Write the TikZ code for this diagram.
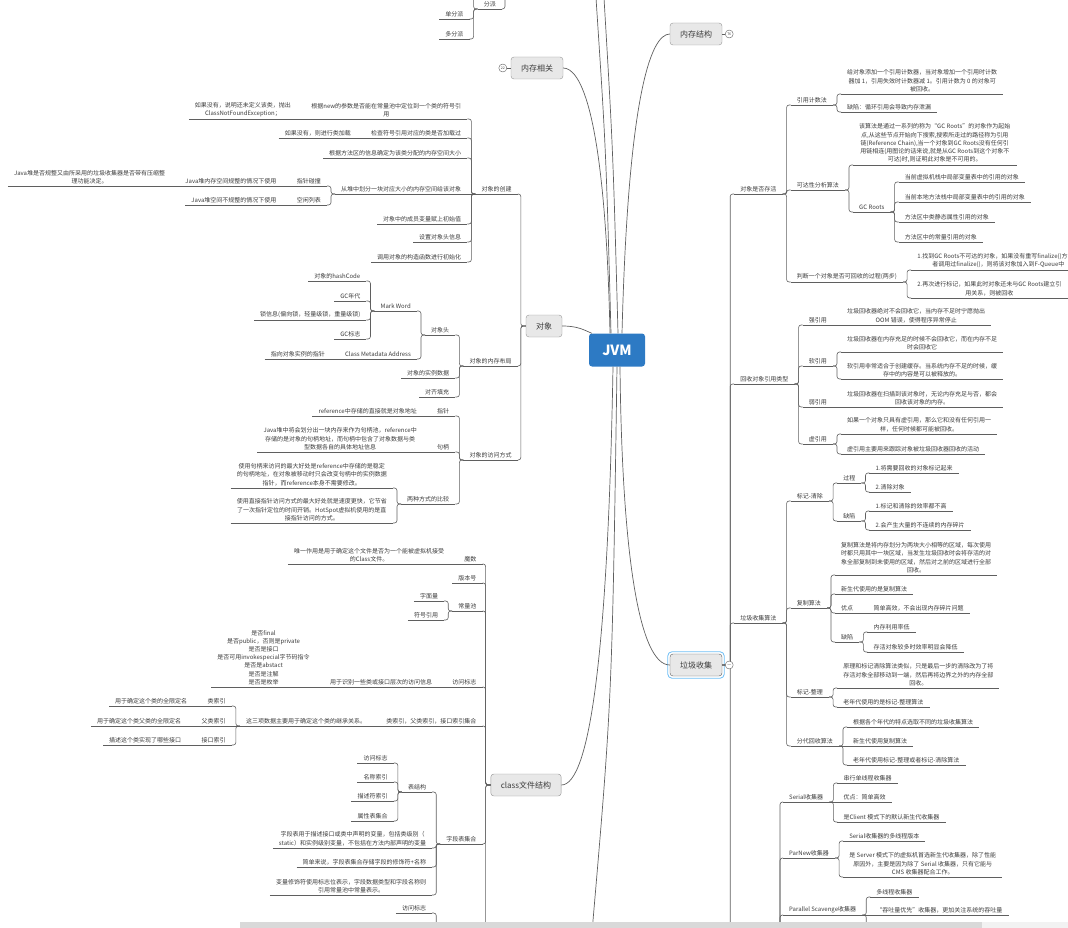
\documentclass[tikz,border=0pt]{standalone}
\usepackage{fontspec}
\setmainfont{Noto Sans CJK SC}
\usetikzlibrary{positioning}
\definecolor{txt}{RGB}{60,60,60}
\definecolor{ln}{RGB}{95,95,95}
\definecolor{bx}{RGB}{232,232,232}
\definecolor{bd}{RGB}{150,150,150}
\definecolor{cJ}{RGB}{45,122,196}
\definecolor{sel}{RGB}{110,190,245}

\begin{document}
\begin{tikzpicture}[x=1pt, y=-1pt, font=\fontsize{6}{8.2}\selectfont, text=txt,
    wire/.style={draw=ln, line width=0.6pt},
    link/.style={wire, rounded corners=2.5pt},
    rl/.style={link, to path={-- ++(#1,0) |- (\tikztotarget)}}, rl/.default=4,
    ll/.style={link, to path={-- ++(#1,0) |- (\tikztotarget)}}, ll/.default=-4,
    vl/.style={link, to path={|- (\tikztotarget)}},
    rt/.style={anchor=south west, inner xsep=6pt, inner ysep=2pt, align=center,
               append after command={(\tikzlastnode.south west) edge[wire] (\tikzlastnode.south east)}},
    lt/.style={rt, anchor=south east},
    rc/.style={rt, xshift=8pt},
    lc/.style={lt, xshift=-8pt},
    branch/.style={draw=bd, fill=bx, rounded corners=3pt, inner xsep=10pt, minimum height=22pt,
                   font=\fontsize{8}{10}\selectfont},
    root/.style={fill=cJ, rounded corners=3pt, minimum width=56pt, minimum height=33pt, text=white,
                 font=\fontsize{14}{16}\selectfont\bfseries},
    fold/.style={circle, draw=ln, fill=white, inner sep=0pt, minimum size=8pt, font=\fontsize{3.5}{4}\selectfont},
    trunk/.style={draw=ln, line width=0.7pt}]

    \useasboundingbox (0,0) rectangle (1068,928);
    \clip (0,0) rectangle (1068,928);

    % Root and branches
    \node[root] (jvm) at (617,350) {JVM};
    \node[branch] (mem) at (696,34) {内存结构};
    \node[branch] (memrel) at (537,68) {内存相关};
    \node[branch] (obj) at (544,326) {对象};
    \node[branch, draw=ln] (gc) at (696,665) {垃圾收集};
    \node[branch] (cls) at (526,785) {class文件结构};
    \draw[sel, line width=0.8pt, rounded corners=4pt] ([shift={(-2,2)}]gc.south west) rectangle ([shift={(2,-2)}]gc.north east);

    \coordinate (up1) at (596,-2);
    \coordinate (up2) at (604,-2);
    \coordinate (down1) at (592,932);

    % Trunk curves
    \draw[trunk] ([xshift=-6pt]jvm.north) .. controls (606,150) .. (up1);
    \draw[trunk] ([xshift=1pt]jvm.north) .. controls (613,150) .. (up2);
    \draw[trunk] ([xshift=5pt]jvm.north) .. controls (628,100) and (650,34) .. (mem.west);
    \draw[trunk] ([xshift=-7pt]jvm.north) .. controls (605,110) and (580,68) .. (memrel.east);
    \draw[trunk] (obj.east) .. controls (578,326) and (584,330) .. ([xshift=3pt]jvm.north west);
    \draw[trunk] ([xshift=3pt]jvm.south) .. controls (622,560) and (640,665) .. (gc.west);
    \draw[trunk] ([xshift=-4pt]jvm.south) .. controls (608,650) and (590,785) .. (cls.east);
    \draw[trunk] ([xshift=0pt]jvm.south) .. controls (612,700) .. (down1);

    % Garbage collection
    \node[rt, xshift=12pt] (alive) at (gc.east |- 0,194) {对象是否存活};
    \node[rt, xshift=12pt] (reftype) at (gc.east |- 0,384) {回收对象引用类型};
    \node[rt, xshift=12pt] (gcalgo) at (gc.east |- 0,623) {垃圾收集算法};
    \coordinate[xshift=12pt] (gcdown) at (gc.east |- 0,940);

    \node[rc] (refcount) at (alive.south east |- 0,105) {引用计数法};
    \node[rc] (rc1) at (refcount.south east |- 0,94) {给对象添加一个引用计数器，当对象增加一个引用时计数\\器加 1，引用失效时计数器减 1。引用计数为 0 的对象可\\被回收。};
    \node[rc] (rc2) at (refcount.south east |- 0,112) {缺陷：循环引用会导致内存泄漏};
    \node[rc] (reach) at (alive.south east |- 0,190) {可达性分析算法};
    \node[rc] (reach1) at (reach.south east |- 0,165) {该算法是通过一系列的称为“GC Roots”的对象作为起始\\点,从这些节点开始向下搜索,搜索所走过的路径称为引用\\链(Reference Chain),当一个对象到GC Roots没有任何引\\用链相连(用图论的话来说,就是从GC Roots到这个对象不\\可达)时,则证明此对象是不可用的。};
    \node[rc] (roots) at (reach.south east |- 0,212) {GC Roots};
    \node[rc] (root1) at (roots.south east |- 0,182) {当前虚拟机栈中局部变量表中的引用的对象};
    \node[rc] (root2) at (roots.south east |- 0,202) {当前本地方法栈中局部变量表中的引用的对象};
    \node[rc] (root3) at (roots.south east |- 0,222) {方法区中类静态属性引用的对象};
    \node[rc] (root4) at (roots.south east |- 0,242) {方法区中的常量引用的对象};
    \node[rc] (judge) at (alive.south east |- 0,282) {判断一个对象是否可回收的过程(两步)};
    \node[rc] (judge1) at (judge.south east |- 0,270) {1.找到GC Roots不可达的对象，如果没有重写finalize()方法或\\者调用过finalize()，则将该对象加入到F-Queue中};
    \node[rc] (judge2) at (judge.south east |- 0,298) {2.再次进行标记，如果此时对象还未与GC Roots建立引\\用关系，则被回收};

    \node[rc] (strong) at (reftype.south east |- 0,325) {强引用};
    \node[rc] (strong1) at (strong.south east |- 0,325) {垃圾回收器绝对不会回收它，当内存不足时宁愿抛出\\OOM 错误，使得程序异常停止};
    \node[rc] (soft) at (reftype.south east |- 0,366) {软引用};
    \node[rc] (soft1) at (soft.south east |- 0,352) {垃圾回收器在内存充足的时候不会回收它，而在内存不足\\时会回收它};
    \node[rc] (soft2) at (soft.south east |- 0,379) {软引用非常适合于创建缓存。当系统内存不足的时候，缓\\存中的内容是可以被释放的。};
    \node[rc] (weak) at (reftype.south east |- 0,407) {弱引用};
    \node[rc] (weak1) at (weak.south east |- 0,407) {垃圾回收器在扫描到该对象时，无论内存充足与否，都会\\回收该对象的内存。};
    \node[rc] (phantom) at (reftype.south east |- 0,444) {虚引用};
    \node[rc] (ph1) at (phantom.south east |- 0,434) {如果一个对象只具有虚引用，那么它和没有任何引用一\\样，任何时候都可能被回收。};
    \node[rc] (ph2) at (phantom.south east |- 0,454) {虚引用主要用来跟踪对象被垃圾回收器回收的活动};

    \node[rc] (marksweep) at (gcalgo.south east |- 0,501) {标记-清除};
    \node[rc] (msproc) at (marksweep.south east |- 0,483) {过程};
    \node[rc] (ms11) at (msproc.south east |- 0,473) {1.将需要回收的对象标记起来};
    \node[rc] (ms12) at (msproc.south east |- 0,492) {2.清除对象};
    \node[rc] (msflaw) at (marksweep.south east |- 0,521) {缺陷};
    \node[rc] (ms21) at (msflaw.south east |- 0,511) {1.标记和清除的效率都不高};
    \node[rc] (ms22) at (msflaw.south east |- 0,530) {2.会产生大量的不连续的内存碎片};
    \node[rc] (copy) at (gcalgo.south east |- 0,608) {复制算法};
    \node[rc] (cp1) at (copy.south east |- 0,575) {复制算法是将内存划分为两块大小相等的区域，每次使用\\时都只用其中一块区域，当发生垃圾回收时会将存活的对\\象全部复制到未使用的区域，然后对之前的区域进行全部\\回收。};
    \node[rc] (cp2) at (copy.south east |- 0,594) {新生代使用的是复制算法};
    \node[rc] (cppro) at (copy.south east |- 0,613) {优点};
    \node[rc] (cppro1) at (cppro.south east |- 0,613) {简单高效，不会出现内存碎片问题};
    \node[rc] (cpflaw) at (copy.south east |- 0,642) {缺陷};
    \node[rc] (cpf1) at (cpflaw.south east |- 0,632) {内存利用率低};
    \node[rc] (cpf2) at (cpflaw.south east |- 0,652) {存活对象较多时效率明显会降低};
    \node[rc] (markcomp) at (gcalgo.south east |- 0,697) {标记-整理};
    \node[rc] (mc1) at (markcomp.south east |- 0,688) {原理和标记清除算法类似，只是最后一步的清除改为了将\\存活对象全部移动到一端，然后再将边界之外的内存全部\\回收。};
    \node[rc] (mc2) at (markcomp.south east |- 0,707) {老年代使用的是标记-整理算法};
    \node[rc] (gener) at (gcalgo.south east |- 0,746) {分代回收算法};
    \node[rc] (gen1) at (gener.south east |- 0,727) {根据各个年代的特点选取不同的垃圾收集算法};
    \node[rc] (gen2) at (gener.south east |- 0,746) {新生代使用复制算法};
    \node[rc] (gen3) at (gener.south east |- 0,765) {老年代使用标记-整理或者标记-清除算法};

    % Collectors
    \coordinate (gcc) at (780,940);
    \node[rt] (serial) at (783,802) {Serial收集器};
    \node[rc] (se1) at (serial.south east |- 0,783) {串行单线程收集器};
    \node[rc] (se2) at (serial.south east |- 0,802) {优点：简单高效};
    \node[rc] (se3) at (serial.south east |- 0,822) {是Client 模式下的默认新生代收集器};
    \node[rt] (parnew) at (783,858) {ParNew收集器};
    \node[rc] (pn1) at (parnew.south east |- 0,841) {Serial收集器的多线程版本};
    \node[rc] (pn2) at (parnew.south east |- 0,877) {是 Server 模式下的虚拟机首选新生代收集器，除了性能\\原因外，主要是因为除了 Serial 收集器，只有它能与\\CMS 收集器配合工作。};
    \node[rt] (parallel) at (783,915) {Parallel Scavenge收集器};
    \node[rc] (ps1) at (parallel.south east |- 0,897) {多线程收集器};
    \node[rc] (ps2) at (parallel.south east |- 0,915) {“吞吐量优先”收集器，更加关注系统的吞吐量};
    \coordinate[xshift=8pt] (ps3) at (parallel.south east |- 0,940);

    % Object
    \node[lt, xshift=-8pt] (create) at (obj.west |- 0,194) {对象的创建};
    \node[lc] (cr1) at (create.south west |- 0,119) {根据new的参数是否能在常量池中定位到一个类的符号引\\用};
    \node[lc] (cr1a) at (cr1.south west |- 0,119) {如果没有，说明还未定义该类，抛出\\ClassNotFoundException；};
    \node[lc] (cr2) at (create.south west |- 0,138) {检查符号引用对应的类是否加载过};
    \node[lc] (cr2a) at (cr2.south west |- 0,138) {如果没有，则进行类加载};
    \node[lc] (cr3) at (create.south west |- 0,158) {根据方法区的信息确定为该类分配的内存空间大小};
    \node[lc] (cr4) at (create.south west |- 0,194) {从堆中划分一块对应大小的内存空间给该对象};
    \node[lc] (bump) at (cr4.south west |- 0,186) {指针碰撞};
    \node[lc] (bump1) at (bump.south west |- 0,186) {Java堆内存空间规整的情况下使用};
    \node[lc] (bump2) at (bump1.south west |- 0,186) {Java堆是否规整又由所采用的垃圾收集器是否带有压缩整\\理功能决定。};
    \node[lc] (free) at (cr4.south west |- 0,205) {空闲列表};
    \node[lc] (free1) at (free.south west |- 0,205) {Java堆空间不规整的情况下使用};
    \node[lc] (cr5) at (create.south west |- 0,224) {对象中的成员变量赋上初始值};
    \node[lc] (cr6) at (create.south west |- 0,242) {设置对象头信息};
    \node[lc] (cr7) at (create.south west |- 0,262) {调用对象的构造函数进行初始化};

    \node[lt, xshift=-8pt] (layout) at (obj.west |- 0,366) {对象的内存布局};
    \node[lc] (header) at (layout.south west |- 0,335) {对象头};
    \node[lc] (markword) at (header.south west |- 0,311) {Mark Word};
    \node[lc] (hash) at (markword.south west |- 0,281) {对象的hashCode};
    \node[lc] (gcage) at (markword.south west |- 0,301) {GC年代};
    \node[lc] (lock) at (markword.south west |- 0,320) {锁信息(偏向锁，轻量级锁，重量级锁)};
    \node[lc] (gcflag) at (markword.south west |- 0,339) {GC标志};
    \node[lc] (klass) at (header.south west |- 0,359) {Class Metadata Address};
    \node[lc] (klass1) at (klass.south west |- 0,359) {指向对象实例的指针};
    \node[lc] (inst) at (layout.south west |- 0,378) {对象的实例数据};
    \node[lc] (pad) at (layout.south west |- 0,397) {对齐填充};

    \node[lt, xshift=-8pt] (access) at (obj.west |- 0,460) {对象的访问方式};
    \node[lc] (ptr) at (access.south west |- 0,416) {指针};
    \node[lc] (ptr1) at (ptr.south west |- 0,416) {reference中存储的直接就是对象地址};
    \node[lc] (handle) at (access.south west |- 0,452) {句柄};
    \node[lc] (handle1) at (handle.south west |- 0,452) {Java堆中将会划分出一块内存来作为句柄池，reference中\\存储的是对象的句柄地址，而句柄中包含了对象数据与类\\型数据各自的具体地址信息};
    \node[lc] (compare) at (access.south west |- 0,504) {两种方式的比较};
    \node[lc] (cmp1) at (compare.south west |- 0,488) {使用句柄来访问的最大好处是reference中存储的是稳定\\的句柄地址，在对象被移动时只会改变句柄中的实例数据\\指针，而reference本身不需要修改。};
    \node[lc] (cmp2) at (compare.south west |- 0,523) {使用直接指针访问方式的最大好处就是速度更快，它节省\\了一次指针定位的时间开销。HotSpot虚拟机使用的是直\\接指针访问的方式。};

    % Class file
    \node[lt, xshift=-8pt] (magic) at (cls.west |- 0,564) {魔数};
    \node[lc] (magic1) at (magic.south west |- 0,564) {唯一作用是用于确定这个文件是否为一个能被虚拟机接受\\的Class文件。};
    \node[lt, xshift=-8pt] (version) at (cls.west |- 0,583) {版本号};
    \node[lt, xshift=-8pt] (pool) at (cls.west |- 0,611) {常量池};
    \node[lc] (literal) at (pool.south west |- 0,601) {字面量};
    \node[lc] (symref) at (pool.south west |- 0,620) {符号引用};
    \node[lt, xshift=-8pt] (flags) at (cls.west |- 0,687) {访问标志};
    \node[lc] (flags1) at (flags.south west |- 0,687) {用于识别一些类或接口层次的访问信息};
    \node[lc] (flags2) at (flags1.south west |- 0,687) {是否final\\是否public，否则是private\\是否是接口\\是否可用invokespecial字节码指令\\是否是abstact\\是否是注解\\是否是枚举};
    \node[lt, xshift=-8pt] (inherit) at (cls.west |- 0,726) {类索引，父类索引，接口索引集合};
    \node[lc] (inh1) at (inherit.south west |- 0,726) {这三项数据主要用于确定这个类的继承关系。};
    \node[lc] (clsidx) at (inh1.south west |- 0,706) {类索引};
    \node[lc] (clsidx1) at (clsidx.south west |- 0,706) {用于确定这个类的全限定名};
    \node[lc] (supidx) at (inh1.south west |- 0,726) {父类索引};
    \node[lc] (supidx1) at (supidx.south west |- 0,726) {用于确定这个类父类的全限定名};
    \node[lc] (ifidx) at (inh1.south west |- 0,745) {接口索引};
    \node[lc] (ifidx1) at (ifidx.south west |- 0,745) {描述这个类实现了哪些接口};
    \node[lt, xshift=-8pt] (fields) at (cls.west |- 0,844) {字段表集合};
    \node[lc] (fstruct) at (fields.south west |- 0,792) {表结构};
    \node[lc] (fs1) at (fstruct.south west |- 0,763) {访问标志};
    \node[lc] (fs2) at (fstruct.south west |- 0,782) {名称索引};
    \node[lc] (fs3) at (fstruct.south west |- 0,801) {描述符索引};
    \node[lc] (fs4) at (fstruct.south west |- 0,821) {属性表集合};
    \node[lc] (fd1) at (fields.south west |- 0,848) {字段表用于描述接口或类中声明的变量，包括类级别（\\static）和实例级别变量，不包括在方法内部声明的变量};
    \node[lc] (fd2) at (fields.south west |- 0,867) {简单来说，字段表集合存储字段的修饰符+名称};
    \node[lc] (fd3) at (fields.south west |- 0,895) {变量修饰符使用标志位表示，字段数据类型和字段名称则\\引用常量池中常量表示。};
    \node[lc] (mflag) at (fields.south west |- 0,913) {访问标志};
    \coordinate[xshift=-4pt] (mtab) at (fields.south west |- 0,940);
    \coordinate[xshift=-8pt] (clsdown) at (cls.west |- 0,940);

    % Dispatch (top left)
    \coordinate (dsptop) at (505,-12);
    \node[lt] (dispatch) at (502,9) {分派};
    \node[lc] (single) at (dispatch.south west |- 0,19) {单分派};
    \node[lc] (multi) at (dispatch.south west |- 0,39) {多分派};
    \coordinate[xshift=-8pt] (dsp0) at (dispatch.south west |- 0,-6);

    % Connectors
    \path (gc.east) edge[rl=8] (alive.south west) edge[rl=8] (reftype.south west)
          edge[rl=8] (gcalgo.south west) edge[rl=8] (gcdown);
    \path (alive.south east) edge[rl] (refcount.south west) edge[rl] (reach.south west) edge[rl] (judge.south west);
    \path (refcount.south east) edge[rl] (rc1.south west) edge[rl] (rc2.south west);
    \path (reach.south east) edge[rl] (reach1.south west) edge[rl] (roots.south west);
    \path (roots.south east) edge[rl] (root1.south west) edge[rl] (root2.south west)
          edge[rl] (root3.south west) edge[rl] (root4.south west);
    \path (judge.south east) edge[rl] (judge1.south west) edge[rl] (judge2.south west);
    \path (reftype.south east) edge[rl] (strong.south west) edge[rl] (soft.south west)
          edge[rl] (weak.south west) edge[rl] (phantom.south west);
    \path (strong.south east) edge[wire] (strong1.south west);
    \path (soft.south east) edge[rl] (soft1.south west) edge[rl] (soft2.south west);
    \path (weak.south east) edge[wire] (weak1.south west);
    \path (phantom.south east) edge[rl] (ph1.south west) edge[rl] (ph2.south west);
    \path (gcalgo.south east) edge[rl] (marksweep.south west) edge[rl] (copy.south west)
          edge[rl] (markcomp.south west) edge[rl] (gener.south west);
    \path (marksweep.south east) edge[rl] (msproc.south west) edge[rl] (msflaw.south west);
    \path (msproc.south east) edge[rl] (ms11.south west) edge[rl] (ms12.south west);
    \path (msflaw.south east) edge[rl] (ms21.south west) edge[rl] (ms22.south west);
    \path (copy.south east) edge[rl] (cp1.south west) edge[rl] (cp2.south west)
          edge[rl] (cppro.south west) edge[rl] (cpflaw.south west);
    \path (cppro.south east) edge[wire] (cppro1.south west);
    \path (cpflaw.south east) edge[rl] (cpf1.south west) edge[rl] (cpf2.south west);
    \path (markcomp.south east) edge[rl] (mc1.south west) edge[rl] (mc2.south west);
    \path (gener.south east) edge[rl] (gen1.south west) edge[wire] (gen2.south west) edge[rl] (gen3.south west);
    \path (gcc) edge[vl] (serial.south west) edge[vl] (parnew.south west) edge[vl] (parallel.south west);
    \path (serial.south east) edge[rl] (se1.south west) edge[wire] (se2.south west) edge[rl] (se3.south west);
    \path (parnew.south east) edge[rl] (pn1.south west) edge[rl] (pn2.south west);
    \path (parallel.south east) edge[rl] (ps1.south west) edge[wire] (ps2.south west) edge[rl] (ps3);

    \path (obj.west) edge[ll=-5] (create.south east) edge[ll=-5] (layout.south east) edge[ll=-5] (access.south east);
    \path (create.south west) edge[ll] (cr1.south east) edge[ll] (cr2.south east) edge[ll] (cr3.south east)
          edge[wire] (cr4.south east) edge[ll] (cr5.south east) edge[ll] (cr6.south east) edge[ll] (cr7.south east);
    \path (cr1.south west) edge[wire] (cr1a.south east);
    \path (cr2.south west) edge[wire] (cr2a.south east);
    \path (cr4.south west) edge[ll] (bump.south east) edge[ll] (free.south east);
    \path (bump.south west) edge[wire] (bump1.south east);
    \path (bump1.south west) edge[wire] (bump2.south east);
    \path (free.south west) edge[wire] (free1.south east);
    \path (layout.south west) edge[ll] (header.south east) edge[ll] (inst.south east) edge[ll] (pad.south east);
    \path (header.south west) edge[ll] (markword.south east) edge[ll] (klass.south east);
    \path (markword.south west) edge[ll] (hash.south east) edge[ll] (gcage.south east)
          edge[ll] (lock.south east) edge[ll] (gcflag.south east);
    \path (klass.south west) edge[wire] (klass1.south east);
    \path (access.south west) edge[ll] (ptr.south east) edge[ll] (handle.south east) edge[ll] (compare.south east);
    \path (ptr.south west) edge[wire] (ptr1.south east);
    \path (handle.south west) edge[wire] (handle1.south east);
    \path (compare.south west) edge[ll] (cmp1.south east) edge[ll] (cmp2.south east);

    \path (cls.west) edge[ll=-5] (magic.south east) edge[ll=-5] (version.south east) edge[ll=-5] (pool.south east)
          edge[ll=-5] (flags.south east) edge[ll=-5] (inherit.south east) edge[ll=-5] (fields.south east)
          edge[ll=-5] (clsdown);
    \path (magic.south west) edge[wire] (magic1.south east);
    \path (pool.south west) edge[ll] (literal.south east) edge[ll] (symref.south east);
    \path (flags.south west) edge[wire] (flags1.south east);
    \path (flags1.south west) edge[wire] (flags2.south east);
    \path (inherit.south west) edge[wire] (inh1.south east);
    \path (inh1.south west) edge[ll] (clsidx.south east) edge[wire] (supidx.south east) edge[ll] (ifidx.south east);
    \path (clsidx.south west) edge[wire] (clsidx1.south east);
    \path (supidx.south west) edge[wire] (supidx1.south east);
    \path (ifidx.south west) edge[wire] (ifidx1.south east);
    \path (fields.south west) edge[ll] (fstruct.south east) edge[ll] (fd1.south east)
          edge[ll] (fd2.south east) edge[ll] (fd3.south east);
    \path (fstruct.south west) edge[ll] (fs1.south east) edge[ll] (fs2.south east)
          edge[ll] (fs3.south east) edge[ll] (fs4.south east);
    \path (mtab) edge[vl] (mflag.south east);

    \path (dsptop) edge[vl] (dispatch.south east);
    \path (dispatch.south west) edge[ll] (dsp0) edge[ll] (single.south east) edge[ll] (multi.south east);

    % Fold markers
    \node[fold] (memfold) at ([xshift=7pt]mem.east) {76};
    \node[fold] (memrelfold) at ([xshift=-8pt]memrel.west) {22};
    \node[fold] (gcfold) at ([xshift=7pt]gc.east) {$-$};
    \draw[wire] (mem.east) -- (memfold);
    \draw[wire] (memrelfold) -- (memrel.west);

    % Scroll bar
    \fill[black!15] (240,922) rectangle (982,928);
    \fill[black!5] (982,922) rectangle (1068,928);
\end{tikzpicture}
\end{document}
